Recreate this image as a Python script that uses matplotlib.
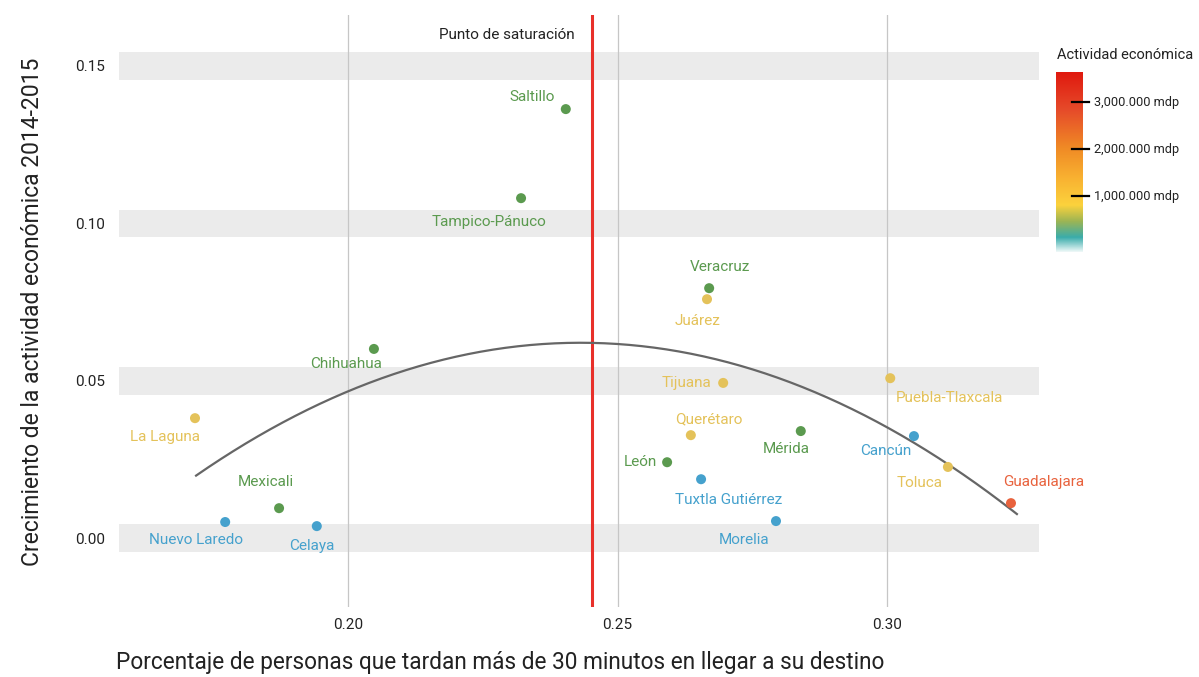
import numpy as np
import matplotlib
matplotlib.use("Agg")
import matplotlib.pyplot as plt
from matplotlib.colors import LinearSegmentedColormap

plt.rcParams["font.family"] = ["Roboto", "DejaVu Sans"]

# %% data
ciudades = ["Saltillo", "Tampico-Pánuco", "Chihuahua", "Veracruz", "Juárez", "Tijuana",
            "Puebla-Tlaxcala", "Querétaro", "Mérida", "León", "Cancún", "Toluca",
            "Guadalajara", "Tuxtla Gutiérrez", "Morelia", "La Laguna", "Mexicali",
            "Nuevo Laredo", "Celaya"]
pct_traslado = [0.2404, 0.2321, 0.2048, 0.2670, 0.2666, 0.2696, 0.3006, 0.2636, 0.2840,
                0.2592, 0.3050, 0.3113, 0.3230, 0.2655, 0.2794, 0.1716, 0.1872, 0.1772, 0.1942]
crecimiento = [0.1363, 0.1080, 0.0601, 0.0794, 0.0759, 0.0493, 0.0508, 0.0327, 0.0340,
               0.0241, 0.0324, 0.0226, 0.0111, 0.0187, 0.0054, 0.0381, 0.0095, 0.0051, 0.0038]
grupo = ["verde", "verde", "verde", "verde", "amarillo", "amarillo", "amarillo", "amarillo",
         "verde", "verde", "azul", "amarillo", "rojo", "azul", "azul", "amarillo", "verde",
         "azul", "azul"]

# trend curve samples
curva_x = [0.1718, 0.1850, 0.1967, 0.2046, 0.2468, 0.2714, 0.3000, 0.3241]
curva_y = [0.0203, 0.0334, 0.0439, 0.0502, 0.0620, 0.0550, 0.0359, 0.0073]

saturacion = 0.2453
x_ticks = [0.20, 0.25, 0.30]
y_ticks = [0.00, 0.05, 0.10, 0.15]
cb_ticks = [1.0e6, 2.0e6, 3.0e6]
cb_labels = ["1,000.000 mdp", "2,000.000 mdp", "3,000.000 mdp"]

# %% styles
colores = {"verde": "#5b9a4f", "amarillo": "#e4c25a", "azul": "#45a1cd", "rojo": "#e8623d"}
# label offsets in pixels (dx, dy, ha)
etiquetas = [(-11, 12, "right"), (-32, -24, "center"), (-28, -15, "center"), (11, 21, "center"),
             (-9, -22, "center"), (-12, 0, "right"), (6, -20, "left"), (18, 16, "center"),
             (-15, -18, "center"), (-10, 0, "right"), (-28, -15, "center"), (-28, -16, "center"),
             (33, 21, "center"), (28, -21, "center"), (-32, -19, "center"), (-30, -19, "center"),
             (-13, 26, "center"), (-29, -18, "center"), (-5, -20, "center")]

W, H = 1199, 677
fig = plt.figure(figsize=(W / 100, H / 100), dpi=100)
ax = fig.add_axes([119 / W, 1 - 607 / H, (1039 - 119) / W, (607 - 15) / H])
ax.set_xlim(0.1575, 0.3282)
ax.set_ylim(-0.0219, 0.1662)

for t in y_ticks:
    ax.axhspan(t - 0.0044, t + 0.0044, color="#ebebeb", lw=0, zorder=0)
for t in x_ticks:
    ax.axvline(t, color="#c6c6c6", lw=0.9, zorder=0.5)

ax.axvline(saturacion, color="#e8302a", lw=2.2, zorder=1)
ax.text(saturacion - 0.0032, 0.1598, "Punto de saturación", ha="right", va="center",
        fontsize=11, color="#222222")

coef = np.polyfit(curva_x, curva_y, 2)
xs = np.linspace(curva_x[0], curva_x[-1], 200)
ax.plot(xs, np.polyval(coef, xs), color="#666666", lw=1.6, zorder=2)

cols = [colores[g] for g in grupo]
ax.scatter(pct_traslado, crecimiento, s=52, c=cols, lw=0, zorder=3)
for nombre, x, y, g, (dx, dy, ha) in zip(ciudades, pct_traslado, crecimiento, grupo, etiquetas):
    ax.annotate(nombre, (x, y), xytext=(dx, dy), textcoords="offset pixels",
                ha=ha, va="center", fontsize=11, color=colores[g], zorder=4)

ax.set_xticks(x_ticks)
ax.set_xticklabels(["%.2f" % t for t in x_ticks])
ax.set_yticks(y_ticks)
ax.set_yticklabels(["%.2f" % t for t in y_ticks])
ax.tick_params(length=0, labelsize=11, labelcolor="#222222")
ax.tick_params(axis="x", pad=8)
ax.tick_params(axis="y", pad=10)
for s in ax.spines.values():
    s.set_visible(False)

fig.text(116 / W, 1 - 663 / H, "Porcentaje de personas que tardan más de 30 minutos en llegar a su destino",
         ha="left", va="center", fontsize=16.3, color="#222222")
fig.text(33 / W, 1 - 312 / H, "Crecimiento de la actividad económica 2014-2015",
         ha="center", va="center", rotation=90, fontsize=16.5, color="#222222")

# %% colour bar
cmap = LinearSegmentedColormap.from_list("actividad", [
    (0.0, "#eef8f8"), (0.08, "#3aacab"), (0.17, "#9db553"), (0.26, "#fcd23d"),
    (0.40, "#f9b432"), (0.58, "#f08a25"), (0.79, "#e64b2a"), (1.0, "#e0190f")])
cb_min, cb_max = -0.19e6, 3.64e6
cax = fig.add_axes([1056 / W, 1 - 252 / H, 27 / W, 180 / H])
grad = np.linspace(0, 1, 256).reshape(-1, 1)
cax.imshow(grad, aspect="auto", cmap=cmap, origin="lower",
           extent=[0, 1, cb_min, cb_max])
cax.set_xlim(0, 1)
cax.set_ylim(cb_min, cb_max)
for v, lab in zip(cb_ticks, cb_labels):
    cax.plot([0.59, 1.22], [v, v], color="black", lw=1.6, clip_on=False)
    cax.text(1.42, v, lab, ha="left", va="center", fontsize=9.2, color="#222222", clip_on=False)
cax.axis("off")
fig.text(1057 / W, 1 - 55 / H, "Actividad económica", ha="left", va="center",
         fontsize=10.5, color="#222222")

fig.savefig("out.png", dpi=100)
